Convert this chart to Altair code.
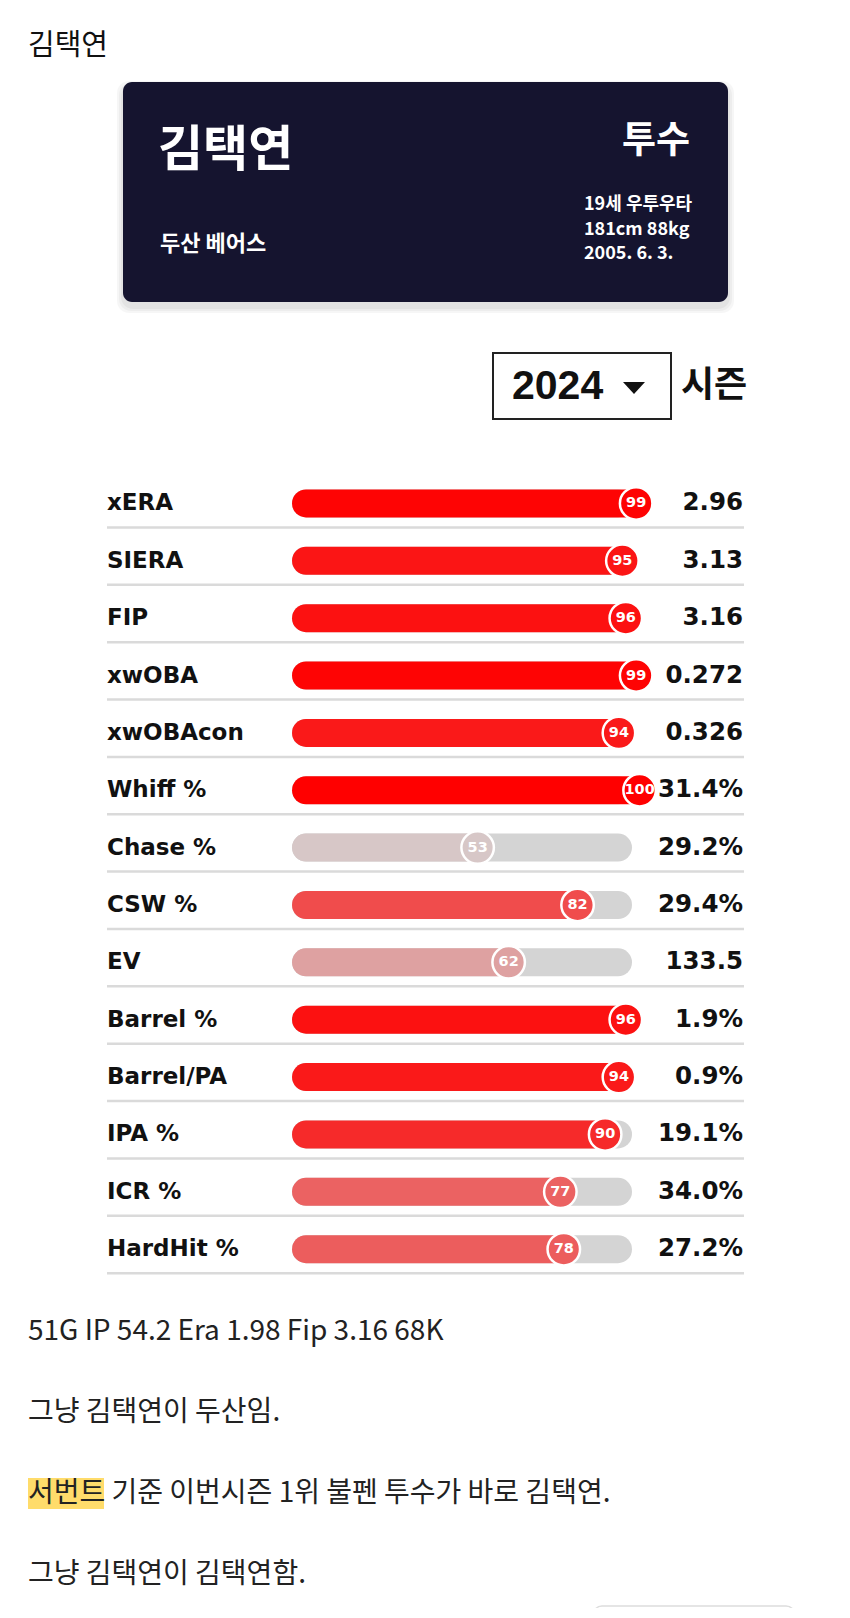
import altair as alt
import pandas as pd

# ---------------- data ----------------
metrics = ["xERA", "SIERA", "FIP", "xwOBA", "xwOBAcon", "Whiff %", "Chase %",
           "CSW %", "EV", "Barrel %", "Barrel/PA", "IPA %", "ICR %", "HardHit %"]
percentiles = [99, 95, 96, 99, 94, 100, 53, 82, 62, 96, 94, 90, 77, 78]
stat_values = ["2.96", "3.13", "3.16", "0.272", "0.326", "31.4%", "29.2%",
               "29.4%", "133.5", "1.9%", "0.9%", "19.1%", "34.0%", "27.2%"]

page_title = "김택연"
player_name = "김택연"
position = "투수"
team = "두산 베어스"
bio_lines = ["19세 우투우타", "181cm 88kg", "2005. 6. 3."]
season = "2024"
season_label = "시즌"
paragraphs = ["51G IP 54.2 Era 1.98 Fip 3.16 68K",
              "그냥 김택연이 두산임.",
              "서번트 기준 이번시즌 1위 불펜 투수가 바로 김택연.",
              "그냥 김택연이 김택연함."]

# ---------------- helpers ----------------
KR = "Noto Sans CJK KR"
LAT = "DejaVu Sans"
M = 8  # page margin; chart coords = page coords - M


def P(v):
    return v - M


def one():
    return alt.Chart(pd.DataFrame({"t": [""]}))


def txt(s, x, y, **kw):
    return alt.Chart(pd.DataFrame({"t": [s]})).mark_text(**kw).encode(
        x=alt.value(P(x)), y=alt.value(P(y)), text="t:N")


def box(x, x2, y, y2, **kw):
    return one().mark_rect(**kw).encode(
        x=alt.value(P(x)), x2=alt.value(P(x2)), y=alt.value(P(y)), y2=alt.value(P(y2)))


layers = []

# page title
layers.append(txt(page_title, 28, 46, align="left", baseline="middle",
                  fontSize=29, font=KR, color="#111"))

# card shadow + card
for i, op in enumerate([0.035, 0.035, 0.04]):
    g = 6 - 2 * i
    layers.append(box(123 - g, 728 + g, 82 - g + 5, 302 + g + 5,
                      color="#000000", opacity=op, cornerRadius=12))
layers.append(box(123, 728, 82, 302, color="#15142f", cornerRadius=9))
layers.append(txt(player_name, 158, 151, align="left", baseline="middle",
                  fontSize=49, fontWeight="bold", font=KR, color="white"))
layers.append(txt(position, 690, 142, align="right", baseline="middle",
                  fontSize=37, fontWeight="bold", font=KR, color="white"))
layers.append(txt(team, 160, 244, align="left", baseline="middle",
                  fontSize=22, fontWeight="bold", font=KR, color="white"))
for s, yy in zip(bio_lines, [205, 230, 254]):
    layers.append(txt(s, 584, yy, align="left", baseline="middle",
                      fontSize=18, fontWeight="bold", font=KR, color="white"))

# season selector
layers.append(box(493, 671, 353, 419, fill="white", stroke="#222222", strokeWidth=2))
layers.append(txt(season, 512, 387, align="left", baseline="middle",
                  fontSize=41, fontWeight="bold", font="Liberation Sans", color="#111"))
layers.append(one().mark_point(shape="M-1,-0.55L1,-0.55L0,0.55Z", filled=True,
                               size=484, color="#111", opacity=1).encode(
    x=alt.value(P(634)), y=alt.value(P(388))))
layers.append(txt(season_label, 681, 386, align="left", baseline="middle",
                  fontSize=36, fontWeight="bold", font=KR, color="#111"))

# ---------------- percentile rows ----------------
df = pd.DataFrame({"metric": metrics, "pct": percentiles, "value": stat_values})
yenc = alt.Y("metric:N", sort=None, axis=None,
             scale=alt.Scale(type="point", domain=metrics, padding=0,
                             range=[P(503.4), P(1249.2)]))
xs = alt.Scale(domain=[0, 100], range=[P(295), P(639.6)])
cs = alt.Scale(domain=[50, 100], range=["#d4d4d4", "#ff0000"], interpolate="rgb")
base = alt.Chart(df).encode(y=yenc)

seps = base.mark_rule(yOffset=24, strokeWidth=2.5, color="#dadada").encode(
    x=alt.value(P(107)), x2=alt.value(P(744)))
track = base.mark_rule(strokeWidth=28, strokeCap="round", color="#d4d4d4").encode(
    x=alt.value(P(306)), x2=alt.value(P(618)))
fill = base.mark_rule(strokeWidth=28, strokeCap="round").encode(
    x=alt.X("pct:Q", scale=xs, axis=None), x2=alt.datum(3.2),
    color=alt.Color("pct:Q", scale=cs, legend=None))
dots = base.mark_circle(size=1056, opacity=1, stroke="white", strokeWidth=2.5).encode(
    x=alt.X("pct:Q", scale=xs, axis=None),
    color=alt.Color("pct:Q", scale=cs, legend=None))
nums = base.mark_text(color="white", fontWeight="bold", fontSize=14.5, font=LAT,
                      baseline="middle").encode(
    x=alt.X("pct:Q", scale=xs, axis=None), text="pct:Q")
labels = base.mark_text(align="left", baseline="middle", fontSize=23,
                        fontWeight="bold", font=LAT, color="#111").encode(
    x=alt.value(P(107)), text="metric:N")
vals = base.mark_text(align="right", baseline="middle", fontSize=24.5,
                      fontWeight="bold", font=LAT, color="#111").encode(
    x=alt.value(P(743)), text="value:N")
layers += [seps, track, fill, dots, nums, labels, vals]

# ---------------- paragraphs ----------------
layers.append(box(28, 104, 1478, 1509, color="#ffdc6b"))
for s, yy in zip(paragraphs, [1332, 1413, 1494, 1575]):
    layers.append(txt(s, 28, yy, align="left", baseline="middle",
                      fontSize=28, font=KR, color="#222"))
layers.append(box(593, 795, 1606, 1640, fill="white", stroke="#dddddd",
                  strokeWidth=1.5, cornerRadius=9))

chart = alt.layer(*layers).properties(
    width=834, height=1600, padding=0, autosize="none"
).configure_view(stroke=None)

chart.save("out.html", embed_options={"renderer": "svg", "actions": False})
